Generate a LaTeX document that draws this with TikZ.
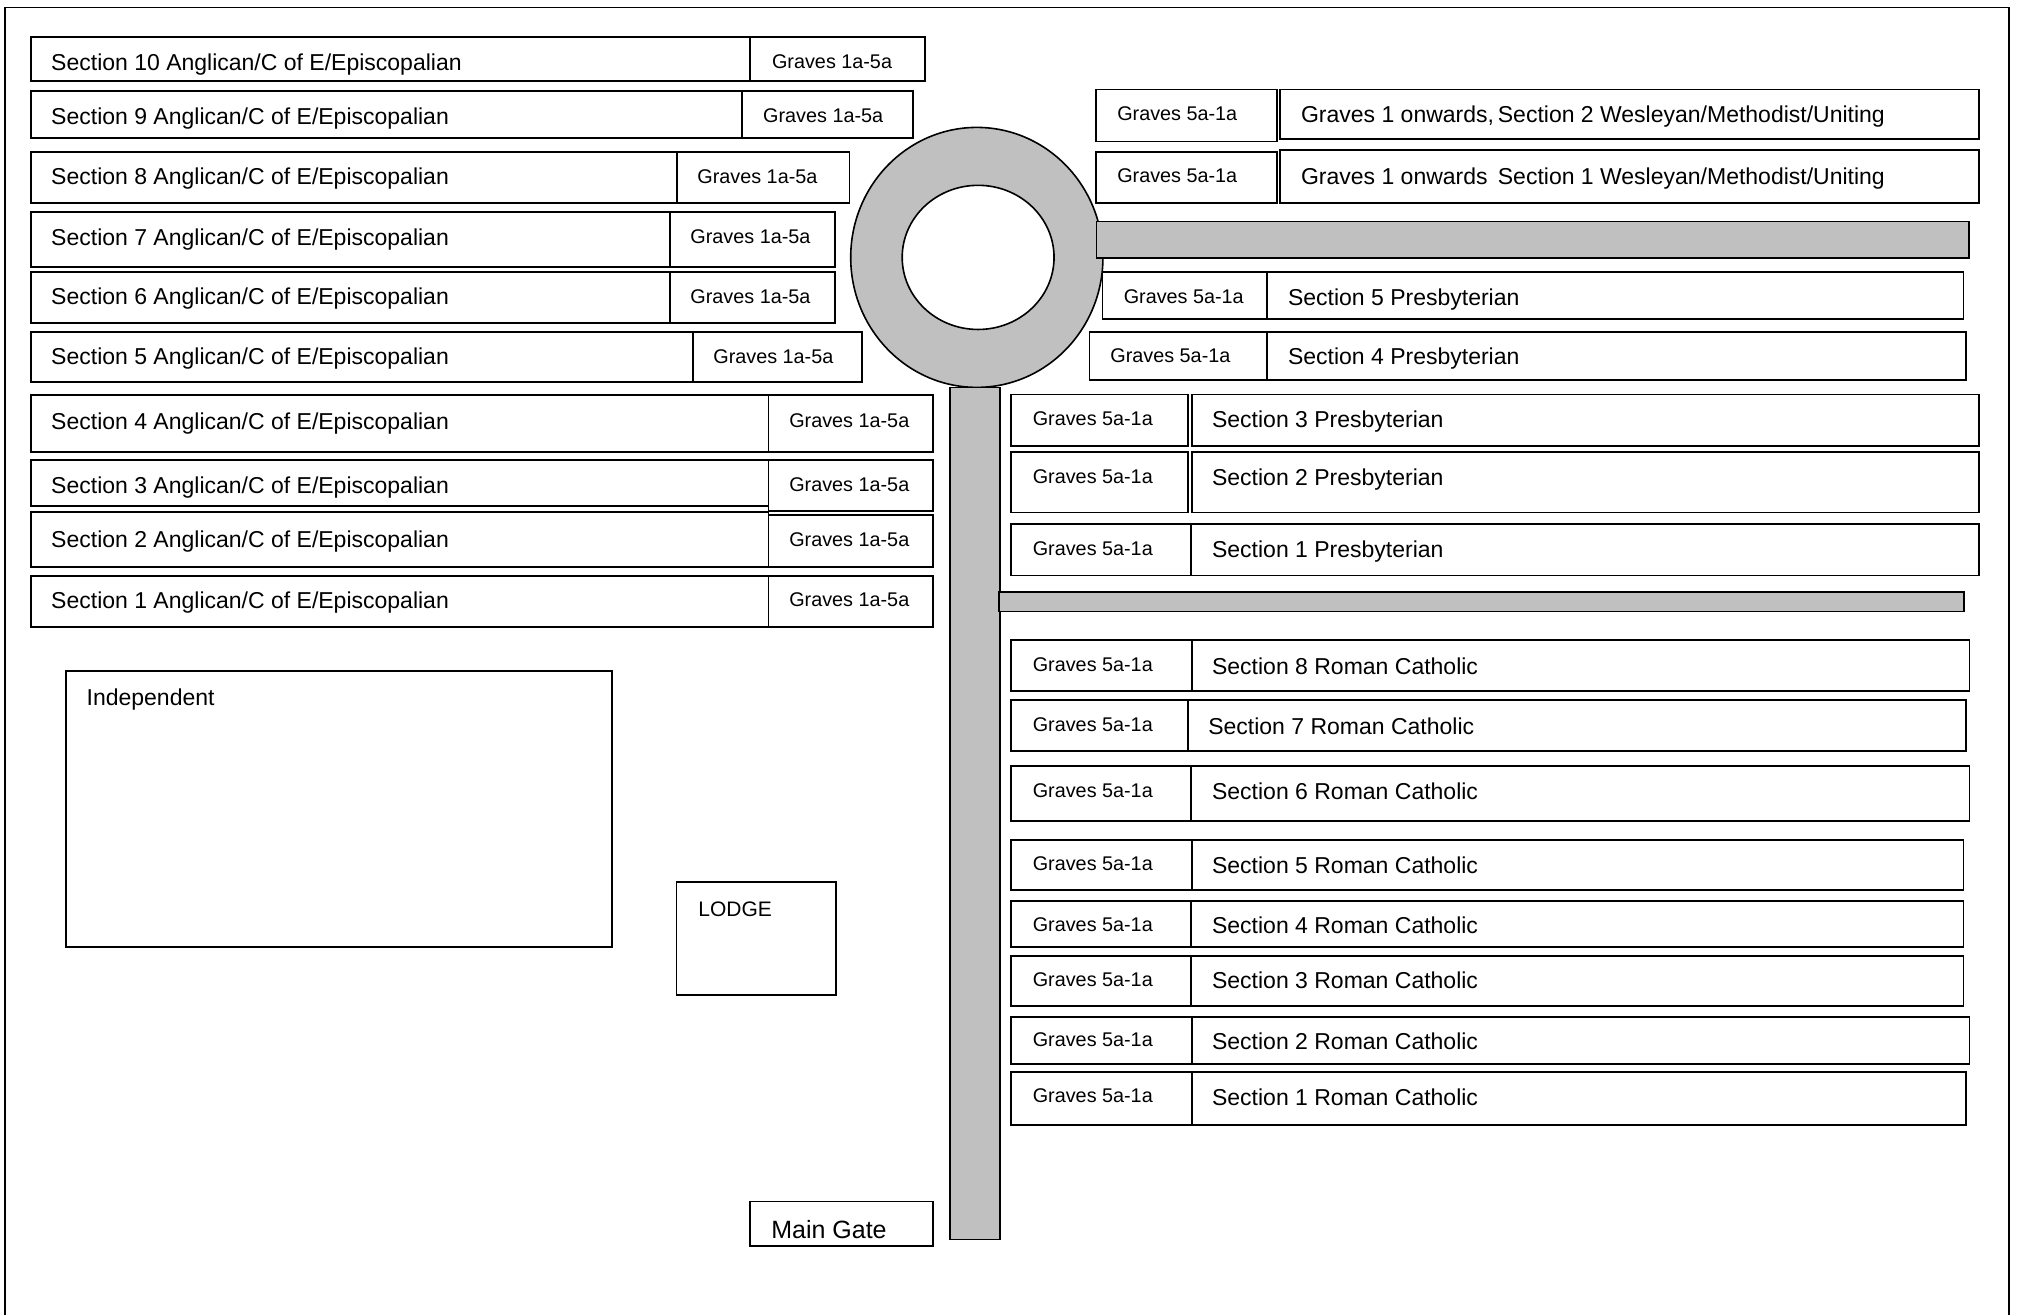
\documentclass[tikz,border=0pt]{standalone}
\usepackage{fontspec}
\setmainfont{Liberation Sans}
\definecolor{roadgray}{RGB}{192,192,192}
\begin{document}
\begin{tikzpicture}[
  x=0.6435pt, y=-0.6435pt,
  plot/.style={draw, line width=0.9pt},
  road/.style={draw, line width=0.8pt, fill=roadgray},
  sect/.style={anchor=west, inner sep=0pt, font=\fontsize{11.5}{13}\selectfont, text height=8.2pt, text depth=0pt},
  grv/.style={anchor=west, inner sep=0pt, font=\fontsize{9.9}{12}\selectfont, text height=7.1pt, text depth=0pt},
  big/.style={anchor=west, inner sep=0pt, font=\fontsize{12.5}{15}\selectfont, text height=9pt, text depth=0pt}
]
\useasboundingbox (0,0) rectangle (1568,1021);
% outer frame
\draw[line width=0.7pt] (4,1030) -- (4,6) -- (1561,6) -- (1561,1030);

% roundabout and roads
\draw[road] (759,200) ellipse [x radius=98, y radius=101];
\draw[plot, fill=white, line width=0.8pt] (760,200) ellipse [x radius=59, y radius=56];
\draw[road] (738,301) rectangle (777,963);
\draw[road] (852,172) rectangle (1530,200.6);
\draw[road] (776,460) rectangle (1526,475);

% Anglican sections
\draw[plot] (24,28.5) rectangle (582.8,62.7) (582.8,28.5) rectangle (719,62.7);
\node[sect] (ang10) at (39.5,48.4) {Section 10 Anglican/C of E/Episcopalian};
\node[grv] (ang10g) at (599.6,47.9) {Graves 1a-5a};
\draw[plot] (24,70.4) rectangle (576.8,107.5) (576.8,70.4) rectangle (709.6,107.5);
\node[sect] (ang9) at (39.5,90.2) {Section 9 Anglican/C of E/Episcopalian};
\node[grv] (ang9g) at (592.7,89.7) {Graves 1a-5a};
\draw[plot] (24,118.1) rectangle (525.8,157.7) (525.8,118.1) rectangle (660,157.7);
\node[sect] (ang8) at (39.5,137.3) {Section 8 Anglican/C of E/Episcopalian};
\node[grv] (ang8g) at (541.6,137) {Graves 1a-5a};
\draw[plot] (24,164.7) rectangle (520.3,207.2) (520.3,164.7) rectangle (648.7,207.2);
\node[sect] (ang7) at (39.5,184.5) {Section 7 Anglican/C of E/Episcopalian};
\node[grv] (ang7g) at (536.2,183.8) {Graves 1a-5a};
\draw[plot] (24,211.1) rectangle (520.3,251) (520.3,211.1) rectangle (648.7,251);
\node[sect] (ang6) at (39.5,230.5) {Section 6 Anglican/C of E/Episcopalian};
\node[grv] (ang6g) at (536.2,230) {Graves 1a-5a};
\draw[plot] (24,258) rectangle (538.2,296.8) (538.2,258) rectangle (670,296.8);
\node[sect] (ang5) at (39.5,277.1) {Section 5 Anglican/C of E/Episcopalian};
\node[grv] (ang5g) at (554,277) {Graves 1a-5a};
\draw[plot] (24,307) rectangle (597.1,351.2) (597.1,307) rectangle (725,351.2);
\node[sect] (ang4) at (39.5,327.4) {Section 4 Anglican/C of E/Episcopalian};
\node[grv] (ang4g) at (613,326.3) {Graves 1a-5a};
\draw[plot] (24,357.4) rectangle (597.1,393.2) (597.1,357.4) rectangle (725,396.8);
\node[sect] (ang3) at (39.5,376.8) {Section 3 Anglican/C of E/Episcopalian};
\node[grv] (ang3g) at (613,376.3) {Graves 1a-5a};
\draw[plot] (24,398.1) rectangle (597.1,440.3) (597.1,400.2) rectangle (725,440.3);
\node[sect] (ang2) at (39.5,418.7) {Section 2 Anglican/C of E/Episcopalian};
\node[grv] (ang2g) at (613,419) {Graves 1a-5a};
\draw[plot] (24,447.6) rectangle (597.1,487.4) (597.1,447.6) rectangle (725,487.4);
\node[sect] (ang1) at (39.5,466.5) {Section 1 Anglican/C of E/Episcopalian};
\node[grv] (ang1g) at (613,466) {Graves 1a-5a};

% Independent, lodge, gate
\draw[plot] (51,521.4) rectangle (475.8,735.8);
\node[sect] (indep) at (67,542) {Independent};
\draw[plot] (525.7,685.3) rectangle (649.3,772.9);
\node[sect, font=\fontsize{10.5}{12}\selectfont, text height=7.5pt] (lodge) at (542.4,706) {LODGE};
\draw[plot] (582.8,933.6) rectangle (725,968);
\node[big] (gate) at (599,955) {Main Gate};

% Wesleyan sections
\draw[plot] (851.7,69.6) rectangle (992.4,109.9) (994.5,69.6) rectangle (1537.9,107.7);
\node[grv] (wes2g) at (867.8,88) {Graves 5a-1a};
\node[sect] (wes2) at (1010.6,89) {Graves 1 onwards,\,Section 2 Wesleyan/Methodist/Uniting};
\draw[plot] (851.7,117.9) rectangle (992.4,157.6) (994.5,116.8) rectangle (1537.9,157.6);
\node[grv] (wes1g) at (867.8,136) {Graves 5a-1a};
\node[sect] (wes1) at (1010.6,137) {Graves 1 onwards~\,Section 1 Wesleyan/Methodist/Uniting};

% Presbyterian sections
\draw[plot] (856.7,211.2) rectangle (984.4,247.8) (984.4,211.2) rectangle (1525.7,247.8);
\node[grv] (pres5g) at (872.9,230) {Graves 5a-1a};
\node[sect] (pres5) at (1000.5,231) {Section 5 Presbyterian};
\draw[plot] (846.6,258) rectangle (984.4,295) (984.4,258) rectangle (1527.4,295);
\node[grv] (pres4g) at (862.5,276) {Graves 5a-1a};
\node[sect] (pres4) at (1000.5,277) {Section 4 Presbyterian};
\draw[plot] (785.6,306.6) rectangle (923.3,346.3) (925.9,306.6) rectangle (1537.9,346.3);
\node[grv] (pres3g) at (802.2,325) {Graves 5a-1a};
\node[sect] (pres3) at (941.5,326) {Section 3 Presbyterian};
\draw[plot] (785.6,351) rectangle (923.3,398.2) (925.9,351) rectangle (1537.9,398.2);
\node[grv] (pres2g) at (802.2,370) {Graves 5a-1a};
\node[sect] (pres2) at (941.5,371) {Section 2 Presbyterian};
\draw[plot] (785.6,407.4) rectangle (925.5,447.1) (925.5,407.4) rectangle (1537.9,447.1);
\node[grv] (pres1g) at (802.2,426) {Graves 5a-1a};
\node[sect] (pres1) at (941.5,427) {Section 1 Presbyterian};

% Roman Catholic sections
\draw[plot] (785.6,497.3) rectangle (925.9,537.2) (925.9,497.3) rectangle (1530.3,537.2);
\node[grv] (rc8g) at (802.2,516.5) {Graves 5a-1a};
\node[sect] (rc8) at (941.5,517.5) {Section 8 Roman Catholic};
\draw[plot] (785.6,544.2) rectangle (922.8,583.5) (922.8,544.2) rectangle (1527.4,583.5);
\node[grv] (rc7g) at (802.2,563) {Graves 5a-1a};
\node[sect] (rc7) at (938.5,564) {Section 7 Roman Catholic};
\draw[plot] (785.6,595.2) rectangle (925.6,637.9) (925.6,595.2) rectangle (1530.3,637.9);
\node[grv] (rc6g) at (802.2,614) {Graves 5a-1a};
\node[sect] (rc6) at (941.5,615.2) {Section 6 Roman Catholic};
\draw[plot] (785.6,652.7) rectangle (925.9,691.5) (925.9,652.7) rectangle (1525.7,691.5);
\node[grv] (rc5g) at (802.2,671) {Graves 5a-1a};
\node[sect] (rc5) at (941.5,672) {Section 5 Roman Catholic};
\draw[plot] (785.6,699.8) rectangle (925.6,735.6) (925.6,699.8) rectangle (1525.7,735.6);
\node[grv] (rc4g) at (802.2,718) {Graves 5a-1a};
\node[sect] (rc4) at (941.5,719) {Section 4 Roman Catholic};
\draw[plot] (785.6,742.8) rectangle (925.6,781.9) (925.6,742.8) rectangle (1525.7,781.9);
\node[grv] (rc3g) at (802.2,761) {Graves 5a-1a};
\node[sect] (rc3) at (941.5,762) {Section 3 Roman Catholic};
\draw[plot] (785.6,790) rectangle (925.9,827) (925.9,790) rectangle (1530.3,827);
\node[grv] (rc2g) at (802.2,808) {Graves 5a-1a};
\node[sect] (rc2) at (941.5,809) {Section 2 Roman Catholic};
\draw[plot] (785.6,832.7) rectangle (925.9,873.9) (925.9,832.7) rectangle (1527.4,873.9);
\node[grv] (rc1g) at (802.2,851.5) {Graves 5a-1a};
\node[sect] (rc1) at (941.5,852.5) {Section 1 Roman Catholic};
\end{tikzpicture}
\end{document}
